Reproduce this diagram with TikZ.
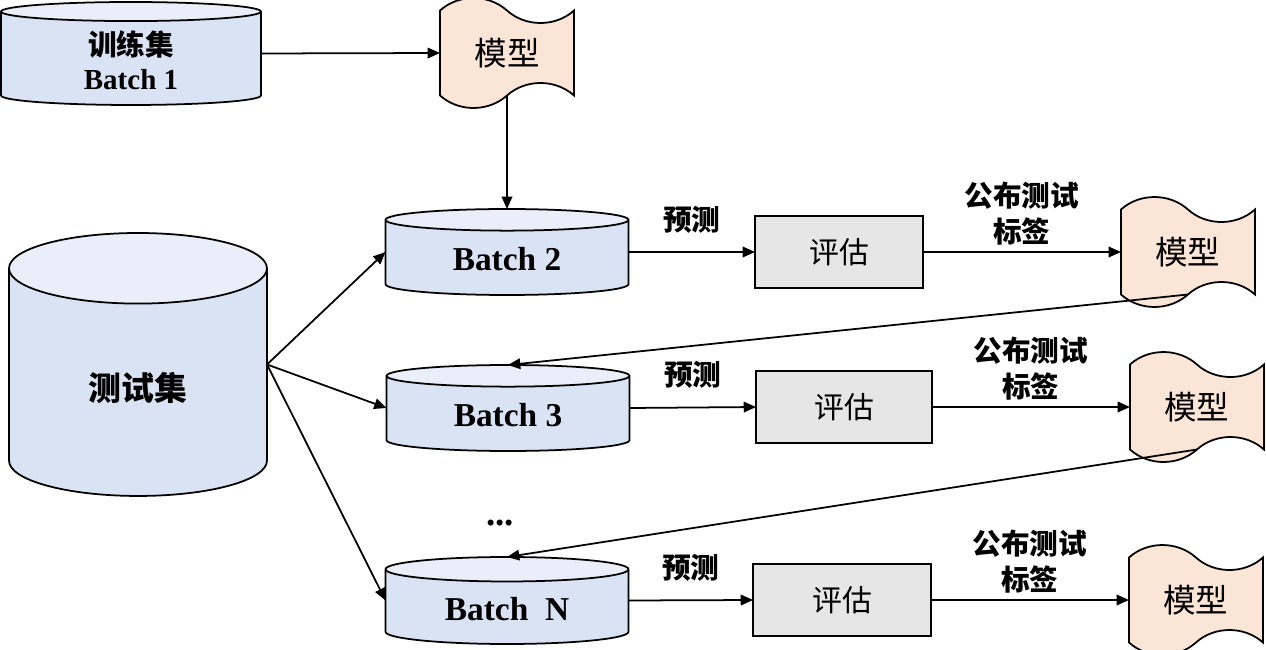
\documentclass[tikz,border=0pt]{standalone}
\usepackage{fontspec}
\setmainfont{Liberation Serif}
\newfontfamily\cjk{Noto Sans CJK SC}
\usetikzlibrary{shapes,arrows.meta,positioning}
\definecolor{dbbody}{HTML}{DAE3F3}
\definecolor{dbtop}{HTML}{E9EEF8}
\definecolor{flagfill}{HTML}{FBE5D6}
\definecolor{evalfill}{HTML}{E7E6E6}

\begin{document}
\begin{tikzpicture}[x=0.02cm, y=-0.02cm, line width=1pt, >={Triangle[length=7pt,width=6pt]},
    db/.style={cylinder, shape border rotate=90, draw, outer sep=0pt, aspect=0.18, anchor=north,
      cylinder uses custom fill, cylinder body fill=dbbody, cylinder end fill=dbtop,
      font=\fontsize{19}{21}\selectfont\bfseries},
    flag/.style={tape, draw, fill=flagfill, outer sep=0pt, tape bend top=out and in,
      tape bend bottom=in and out, tape bend height=0.5cm,
      minimum width=2.68cm, minimum height=2.2cm, font=\cjk\fontsize{18.5}{20}\selectfont},
    evalbox/.style={rectangle, draw, fill=evalfill, outer sep=0pt, minimum width=3.5cm,
      minimum height=1.44cm, font=\cjk\fontsize{17}{20}\selectfont},
    lbl/.style={font=\cjk\bfseries\fontsize{16.3}{20.5}\selectfont, align=center}]
    \useasboundingbox (0,0) rectangle (1266,649);

    % training batch and first model
    \node (train) [db, minimum width=5.2cm, minimum height=2.06cm, align=center,
        font=\fontsize{16.5}{18}\selectfont\bfseries] at (131,2)
        {{\cjk\fontsize{16.3}{18}\selectfont 训练集}\\[1pt]Batch 1};
    \node (m1) [flag] at (507,53) {模型};

    % test set
    \node (test) [db, aspect=0.64, minimum width=5.16cm, minimum height=5.26cm,
        font=\cjk\bfseries\fontsize{18.7}{20}\selectfont] at (138,233) {测试集};

    % test batches
    \node (b2) [db, minimum width=4.86cm, minimum height=1.72cm] at (507,209) {Batch 2};
    \node (b3) [db, minimum width=4.86cm, minimum height=1.72cm] at (508,365) {Batch 3};
    \node (bn) [db, minimum width=4.86cm, minimum height=1.74cm] at (507,557) {Batch~~N};
    \node (dots) at (500,523) {\bfseries\fontsize{21}{22}\selectfont ...};

    % evaluation and updated models
    \node (e2) [evalbox, minimum width=3.36cm] at (839,252) {评估};
    \node (m2) [flag, right=3.96cm of e2] {模型};
    \node (e3) [evalbox, minimum width=3.52cm] at (844,407) {评估};
    \node (m3) [flag, right=3.96cm of e3] {模型};
    \node (en) [evalbox, minimum width=3.56cm] at (842,600) {评估};
    \node (mn) [flag, right=3.96cm of en] {模型};

    \draw[->] (train.shape center -| train.east) -- (m1.west);
    \draw[->] (m1.south) -- (b2.north);
    \draw[->] (test.shape center -| test.east) -- (b2.shape center -| b2.west);
    \draw[->] (test.shape center -| test.east) -- (b3.shape center -| b3.west);
    \draw[->] (test.shape center -| test.east) -- (bn.shape center -| bn.west);

    \draw[->] (b2.shape center -| b2.east) -- node[lbl, above=7pt] (p2) {预测} (e2.west);
    \draw[->] (e2) -- node[lbl, above] (l2) {公布测试\\标签} (m2);
    \draw[->] (b3.shape center -| b3.east) -- node[lbl, above=7pt] (p3) {预测} (e3.west);
    \draw[->] (e3) -- node[lbl, above] (l3) {公布测试\\标签} (m3);
    \draw[->] (bn.shape center -| bn.east) -- node[lbl, above=7pt] (pn) {预测} (en.west);
    \draw[->] (en) -- node[lbl, above] (ln) {公布测试\\标签} (mn);

    \draw[->] (m2.south) -- (b3.north);
    \draw[->] (m3.south) -- (bn.north);
\end{tikzpicture}
\end{document}
